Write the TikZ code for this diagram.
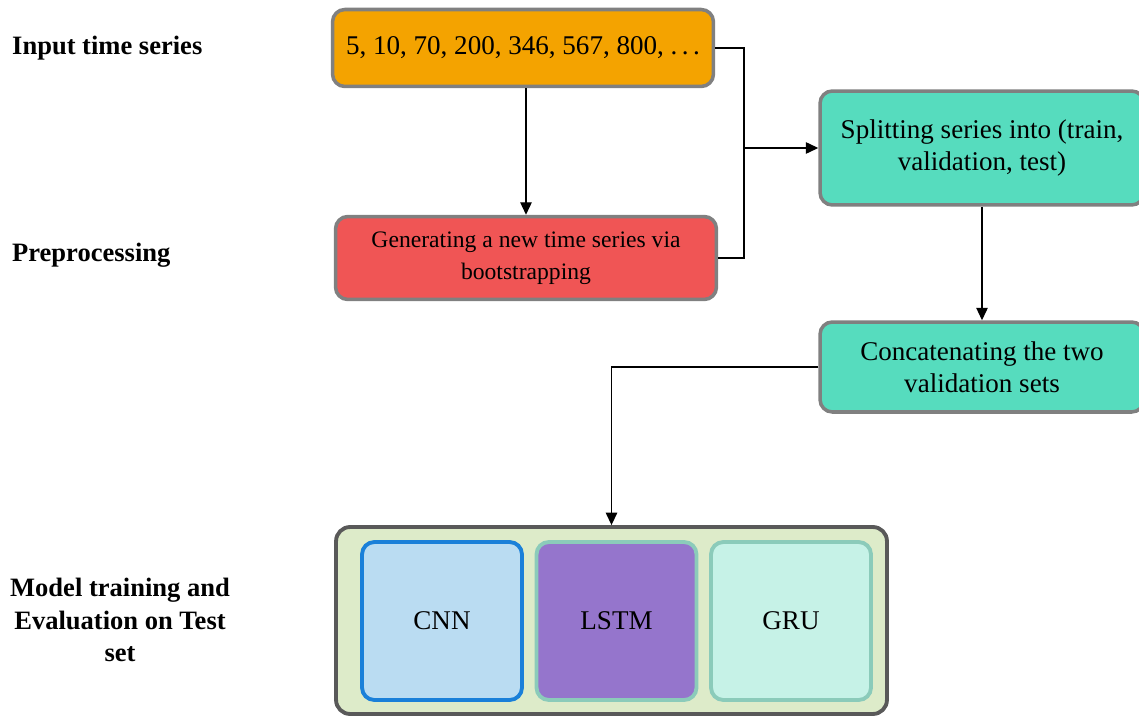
\documentclass[tikz,border=0pt]{standalone}
\usepackage{fontspec}
\setmainfont{Liberation Serif}
\usepackage{xcolor}
\usepackage{tikz}
\usetikzlibrary{arrows.meta, positioning}

\definecolor{inorange}{HTML}{F4A300}
\definecolor{prepred}{HTML}{F05555}
\definecolor{stepteal}{HTML}{56DCBE}
\definecolor{boxgray}{HTML}{808080}
\definecolor{modelgreen}{HTML}{DDEBC9}
\definecolor{cnnfill}{HTML}{BADCF2}
\definecolor{cnnline}{HTML}{1A80D9}
\definecolor{lstmfill}{HTML}{9575CC}
\definecolor{rnnline}{HTML}{8BCBBA}
\definecolor{grufill}{HTML}{C6F2E7}

\tikzset{
  flowbox/.style={draw=boxgray, line width=2pt, rounded corners=7pt, align=center,
                  font=\fontsize{15.4}{18}\selectfont, inner sep=4pt},
  inputbox/.style={flowbox, fill=inorange, minimum width=7.62cm, minimum height=1.54cm},
  prepbox/.style={flowbox, fill=prepred, minimum width=7.62cm, minimum height=1.66cm,
                  font=\fontsize{13.45}{18}\selectfont},
  stagebox/.style={flowbox, fill=stepteal, minimum width=6.48cm},
  modelbox/.style={draw, line width=2.2pt, rounded corners=7pt, minimum width=3.2cm,
                   minimum height=3.16cm, font=\fontsize{15.4}{18}\selectfont},
  rowlabel/.style={font=\fontsize{15.1}{18.5}\selectfont\bfseries, align=center},
  flowarrow/.style={-{Triangle[length=2.5mm, width=2.3mm]}, line width=0.75pt},
  flowline/.style={line width=0.75pt}
}

\begin{document}
\begin{tikzpicture}[x=0.02cm, y=-0.02cm]
\useasboundingbox (0,0) rectangle (1139,716);

% Row labels
\node[rowlabel, anchor=west] (lblin)   at (6,48)  {Input time series};
\node[rowlabel, anchor=west] (lblprep) at (6,255) {Preprocessing};
\node[rowlabel] (lblmodel) at (120,620) {Model training and\\Evaluation on Test\\set};

% Series and preprocessing
\node[inputbox] (input) at (523,48) {5, 10, 70, 200, 346, 567, 800, .\,.\,.};
\node[prepbox]  (prep)  at (526,258) {Generating a new time series via\\bootstrapping};

% Splitting and concatenation
\node[stagebox, minimum height=2.28cm] (split)  at (982,148) {Splitting series into (train,\\validation, test)};
\node[stagebox, minimum height=1.8cm]  (concat) at (982,367) {Concatenating the two\\validation sets};

% Models
\node[draw=black!65, line width=2.2pt, fill=modelgreen, rounded corners=8pt,
      minimum width=11.02cm, minimum height=3.74cm] (models) at (611.5,620.5) {};
\node[modelbox, draw=cnnline, fill=cnnfill]  (cnn)  at (442,621)   {CNN};
\node[modelbox, draw=rnnline, fill=lstmfill] (lstm) at (616.5,621) {LSTM};
\node[modelbox, draw=rnnline, fill=grufill]  (gru)  at (791,621)   {GRU};

% Arrows
\coordinate (merge) at (744,148);
\draw[flowline] (input.east) -| (merge);
\draw[flowline] (prep.east) -| (merge);
\draw[flowarrow] (merge) -- (split.west);
\draw[flowarrow] (prep.north |- input.south) -- (prep.north);
\draw[flowarrow] (split) -- (concat);
\draw[flowarrow] (concat.west) -| (models.north);

\end{tikzpicture}
\end{document}
